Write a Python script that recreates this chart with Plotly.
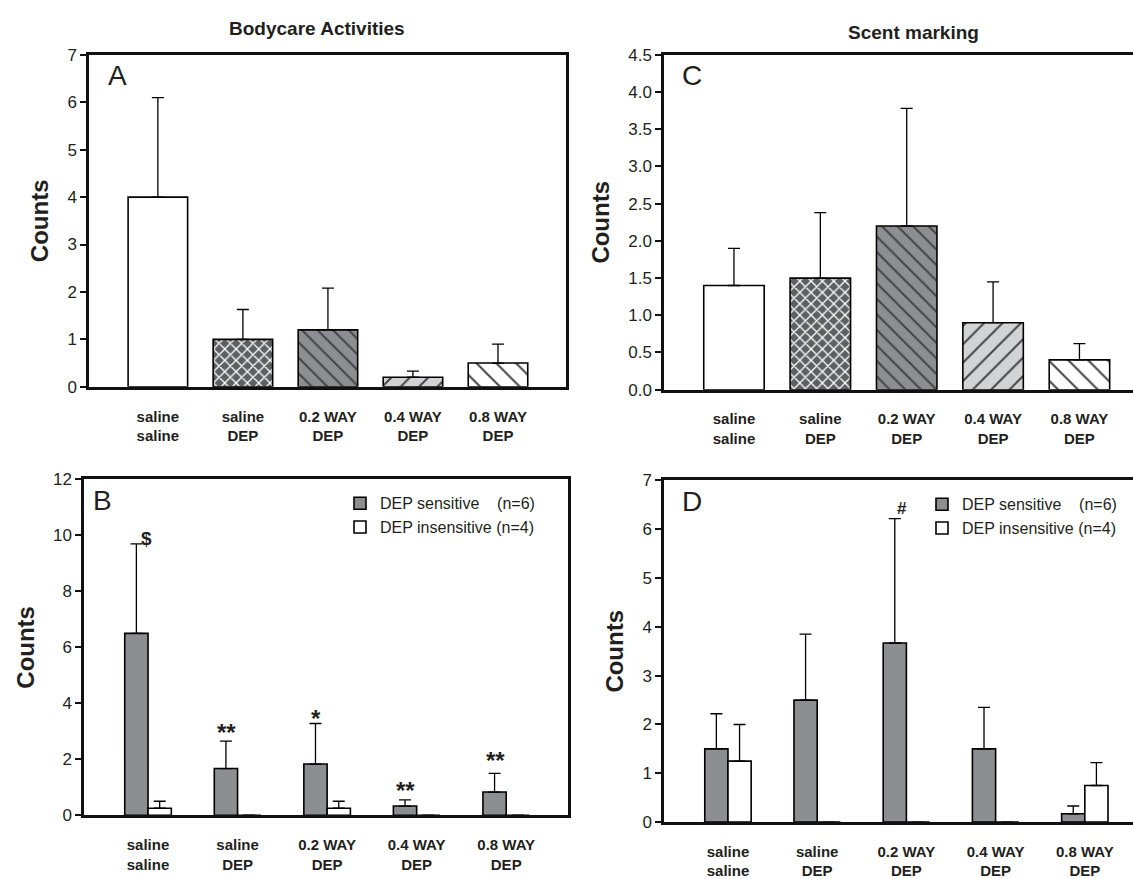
import plotly.graph_objects as go

W, H = 1133, 879

categories = ["saline<br>saline", "saline<br>DEP", "0.2 WAY<br>DEP", "0.4 WAY<br>DEP", "0.8 WAY<br>DEP"]

# Panel A - bodycare activities (all animals)
body_mean = [4.0, 1.0, 1.2, 0.2, 0.5]
body_sem = [2.1, 0.63, 0.88, 0.13, 0.4]

# Panel C - scent marking (all animals)
scent_mean = [1.4, 1.5, 2.2, 0.9, 0.4]
scent_sem = [0.5, 0.88, 1.58, 0.55, 0.22]

# Panel B - bodycare split by DEP sensitivity
body_sens_mean = [6.5, 1.67, 1.83, 0.33, 0.83]
body_sens_sem = [3.2, 0.98, 1.45, 0.22, 0.67]
body_insens_mean = [0.25, 0.0, 0.25, 0.0, 0.0]
body_insens_sem = [0.25, 0.0, 0.25, 0.0, 0.0]
body_marks = ["$", "**", "*", "**", "**"]
body_mark_y = [10.0, 3.38, 3.87, 1.33, 2.37]

# Panel D - scent marking split by DEP sensitivity
scent_sens_mean = [1.5, 2.5, 3.67, 1.5, 0.17]
scent_sens_sem = [0.72, 1.35, 2.55, 0.85, 0.16]
scent_insens_mean = [1.25, 0.0, 0.0, 0.0, 0.75]
scent_insens_sem = [0.75, 0.0, 0.0, 0.0, 0.47]
scent_marks = ["", "", "#", "", ""]
scent_mark_y = [0, 0, 6.48, 0, 0]

# Treatment fills for the single-group panels
treat_colors = ["white", "#5e5f63", "#8d8e92", "#d2d3d5", "white"]
treat_patterns = ["", "x", "\\", "/", "\\"]
treat_pattern_size = [10, 8, 11, 13, 14]
treat_pattern_solidity = [0.2, 0.3, 0.18, 0.15, 0.14]

GRAY = "#8d8e92"
FONT = "Liberation Sans, Arial, sans-serif"
TXT = "#231f20"
LINE = "#111111"


def px_dom_x(a, b):
    return [a / W, b / W]


def px_dom_y(top, bottom):
    return [1 - bottom / H, 1 - top / H]


def err(vals):
    return dict(type="data", array=vals, arrayminus=[0] * len(vals), symmetric=False,
                color="black", thickness=1.3, width=6)


def treat_marker():
    return dict(color=treat_colors, line=dict(color="black", width=1.6),
                pattern=dict(shape=treat_patterns,
                             fgcolor=["black"] * len(treat_colors),
                             bgcolor=treat_colors,
                             size=treat_pattern_size,
                             solidity=treat_pattern_solidity,
                             fgopacity=1, fillmode="overlay"))


fig = go.Figure()

# A
fig.add_trace(go.Bar(x=categories, y=body_mean, error_y=err(body_sem), xaxis="x", yaxis="y",
                     width=0.7, showlegend=False, marker=treat_marker()))
# C
fig.add_trace(go.Bar(x=categories, y=scent_mean, error_y=err(scent_sem), xaxis="x2", yaxis="y2",
                     width=0.7, showlegend=False, marker=treat_marker()))

SENS_NAME = "DEP sensitive\u00a0\u00a0\u00a0\u00a0(n=6)"
INSENS_NAME = "DEP insensitive (n=4)"

# B
fig.add_trace(go.Bar(
    x=categories, y=body_sens_mean, error_y=err(body_sens_sem), xaxis="x3", yaxis="y3",
    name=SENS_NAME, legend="legend", offsetgroup="s",
    marker=dict(color=GRAY, line=dict(color="black", width=1.6)),
))
fig.add_trace(go.Bar(
    x=categories, y=body_insens_mean, error_y=err(body_insens_sem), xaxis="x3", yaxis="y3",
    name=INSENS_NAME, legend="legend", offsetgroup="i",
    marker=dict(color="white", line=dict(color="black", width=1.6)),
))
# D
fig.add_trace(go.Bar(
    x=categories, y=scent_sens_mean, error_y=err(scent_sens_sem), xaxis="x4", yaxis="y4",
    name=SENS_NAME, legend="legend2", offsetgroup="s",
    marker=dict(color=GRAY, line=dict(color="black", width=1.6)),
))
fig.add_trace(go.Bar(
    x=categories, y=scent_insens_mean, error_y=err(scent_insens_sem), xaxis="x4", yaxis="y4",
    name=INSENS_NAME, legend="legend2", offsetgroup="i",
    marker=dict(color="white", line=dict(color="black", width=1.6)),
))


def xaxis(dom, rng, anchor, mirror=True):
    return dict(domain=dom, range=rng, anchor=anchor, type="category",
                categoryorder="array", categoryarray=categories,
                showline=True, linecolor=LINE, linewidth=2.5, mirror=mirror,
                ticks="", showgrid=False, zeroline=False, ticklabelstandoff=14,
                tickfont=dict(family=FONT, size=15, color=TXT, weight="bold"))


def yaxis(dom, rng, dtick, anchor, fmt=None, mirror=True):
    d = dict(domain=dom, range=rng, dtick=dtick, anchor=anchor,
             showline=True, linecolor=LINE, linewidth=2.5, mirror=mirror,
             ticks="outside", ticklen=6, tickwidth=1.5, tickcolor=LINE,
             showgrid=False, zeroline=False,
             tickfont=dict(family=FONT, size=17, color=TXT),
             title=dict(text="Counts", standoff=12,
                        font=dict(family=FONT, size=24, color=TXT, weight="bold")))
    if fmt:
        d["tickformat"] = fmt
    return d


fig.update_layout(
    width=W, height=H, margin=dict(l=0, r=0, t=0, b=0),
    paper_bgcolor="white", plot_bgcolor="white",
    barmode="group", bargap=0.48, bargroupgap=0,
    font=dict(family=FONT, color=TXT),
    xaxis=xaxis(px_dom_x(89, 566), [-0.81, 4.8], "y"),
    yaxis=yaxis(px_dom_y(47, 387), [0, 7], 1, "x"),
    xaxis2=xaxis(px_dom_x(664, 1133), [-0.81, 4.62], "y2", mirror="allticks"),
    yaxis2=yaxis(px_dom_y(47, 390), [0, 4.5], 0.5, "x2", fmt=".1f", mirror=False),
    xaxis3=xaxis(px_dom_x(84, 568), [-0.715, 4.69], "y3"),
    yaxis3=yaxis(px_dom_y(482, 826), [0, 12], 2, "x3"),
    xaxis4=xaxis(px_dom_x(664, 1133), [-0.717, 4.54], "y4", mirror="allticks"),
    yaxis4=yaxis(px_dom_y(483, 833), [0, 7], 1, "x4", mirror=False),
    legend=dict(x=340 / W, y=1 - 489 / H, xanchor="left", yanchor="top",
                bgcolor="rgba(0,0,0,0)", tracegroupgap=0,
                font=dict(family=FONT, size=16, color=TXT)),
    legend2=dict(x=922 / W, y=1 - 490 / H, xanchor="left", yanchor="top",
                 bgcolor="rgba(0,0,0,0)", tracegroupgap=0,
                 font=dict(family=FONT, size=16, color=TXT)),
)

annotations = []
# Titles
annotations.append(dict(text="Bodycare Activities", x=317 / W, y=1 - 20 / H, xref="paper", yref="paper",
                        xanchor="center", yanchor="middle", showarrow=False,
                        font=dict(family=FONT, size=19, color=TXT, weight="bold")))
annotations.append(dict(text="Scent marking", x=913 / W, y=1 - 24 / H, xref="paper", yref="paper",
                        xanchor="center", yanchor="middle", showarrow=False,
                        font=dict(family=FONT, size=19, color=TXT, weight="bold")))
# Panel letters
for letter, xr, yr, xp in [("A", "x", "y", 0.035), ("C", "x2", "y2", 0.035),
                           ("B", "x3", "y3", 0.015), ("D", "x4", "y4", 0.035)]:
    annotations.append(dict(text=letter, x=xp, y=0.99, xref=f"{xr} domain", yref=f"{yr} domain",
                            xanchor="left", yanchor="top", showarrow=False,
                            font=dict(family=FONT, size=28, color=TXT)))
# Significance marks
for i, (m, yv) in enumerate(zip(body_marks, body_mark_y)):
    if m == "$":
        annotations.append(dict(text=m, x=categories[i], y=yv, xref="x3", yref="y3",
                                xshift=-2, yshift=-3, showarrow=False,
                                font=dict(family=FONT, size=19, color=TXT, weight="bold")))
    elif m:
        annotations.append(dict(text=m, x=categories[i], y=yv, xref="x3", yref="y3",
                                xshift=-11, yshift=-12, showarrow=False,
                                font=dict(family=FONT, size=24, color=TXT, weight="bold")))
for i, (m, yv) in enumerate(zip(scent_marks, scent_mark_y)):
    if m:
        annotations.append(dict(text=m, x=categories[i], y=yv, xref="x4", yref="y4",
                                xshift=-4, yshift=-3, showarrow=False,
                                font=dict(family=FONT, size=17, color=TXT, weight="bold")))
fig.update_layout(annotations=annotations)

fig.write_html("out.html")
